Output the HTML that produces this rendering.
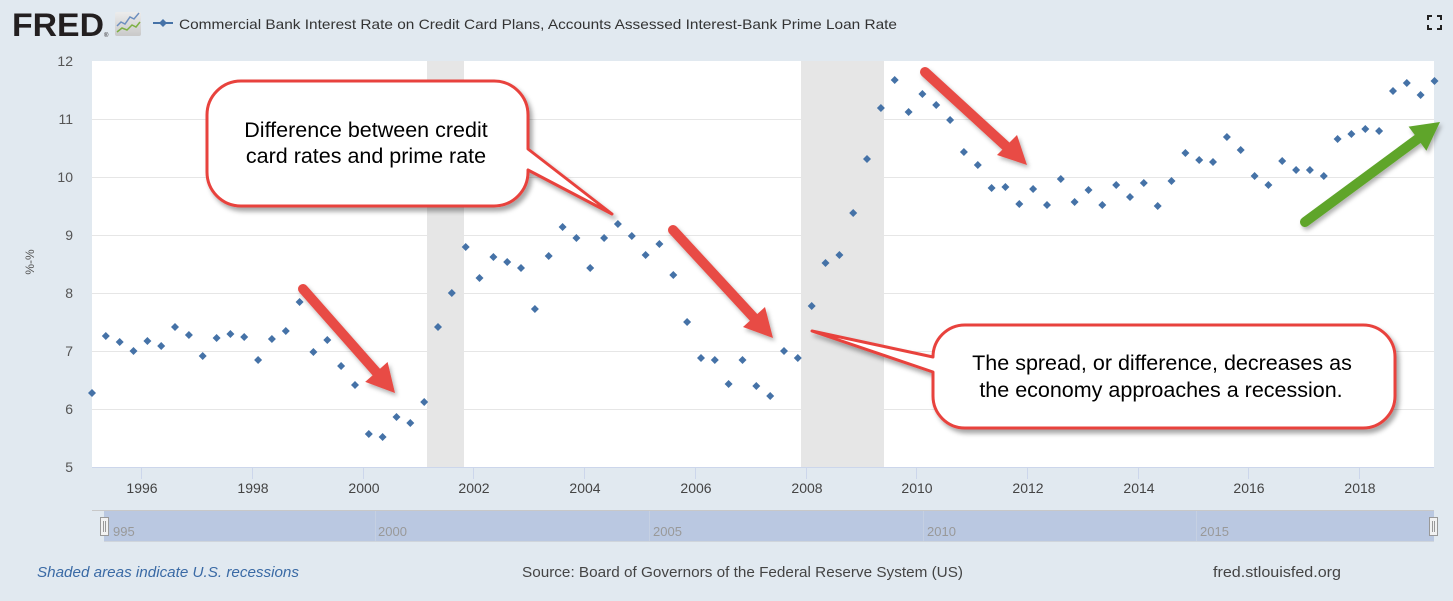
<!DOCTYPE html>
<html>
<head>
<meta charset="utf-8">
<style>
  html,body{margin:0;padding:0;background:#e1e9f0;}
  svg{display:block;}
  text{font-family:"Liberation Sans", Arial, sans-serif;}
</style>
</head>
<body>
<svg width="1453" height="601" viewBox="0 0 1453 601" xmlns="http://www.w3.org/2000/svg">
  <defs>
    <filter id="sh" x="-20%" y="-20%" width="140%" height="150%">
      <feDropShadow dx="3" dy="4" stdDeviation="2.5" flood-color="#000" flood-opacity="0.35"/>
    </filter>
    <filter id="ash" x="-20%" y="-20%" width="140%" height="140%">
      <feDropShadow dx="2" dy="3" stdDeviation="2" flood-color="#000" flood-opacity="0.3"/>
    </filter>
    <linearGradient id="ig" x1="0" y1="0" x2="0" y2="1">
      <stop offset="0" stop-color="#ececec"/>
      <stop offset="1" stop-color="#c9c9c9"/>
    </linearGradient>
  </defs>

  <rect x="0" y="0" width="1453" height="601" fill="#e1e9f0"/>

  <!-- Header -->
  <text x="12" y="36" font-size="32" font-weight="bold" fill="#231f20" textLength="92" lengthAdjust="spacingAndGlyphs">FRED</text>
  <text x="104" y="37" font-size="6" fill="#231f20">®</text>
  <rect x="115" y="12" width="26" height="24" rx="2" fill="url(#ig)"/>
  <polyline points="117,26 121,22 125,24 130,17 134,19 139,13" fill="none" stroke="#6d8fbf" stroke-width="1.5"/>
  <polyline points="117,32 122,28 127,30 132,25 136,27 140,22" fill="none" stroke="#7db043" stroke-width="1.5"/>

  <line x1="153" y1="23" x2="173" y2="23" stroke="#4572a7" stroke-width="2"/>
  <path d="M163 19 l4 4 -4 4 -4 -4z" fill="#4572a7"/>
  <text x="179" y="29" font-size="14" fill="#333" textLength="718" lengthAdjust="spacingAndGlyphs">Commercial Bank Interest Rate on Credit Card Plans, Accounts Assessed Interest-Bank Prime Loan Rate</text>

  <!-- fullscreen icon -->
  <g fill="none" stroke="#222" stroke-width="2">
    <path d="M1428 20 V16 H1432"/>
    <path d="M1437 16 H1441 V20"/>
    <path d="M1428 25 V29 H1432"/>
    <path d="M1437 29 H1441 V25"/>
  </g>

  <!-- Plot area -->
  <rect x="92" y="61" width="1342" height="406" fill="#ffffff"/>
  <!-- recessions -->
  <rect x="427" y="61" width="37" height="406" fill="#e6e6e6"/>
  <rect x="801" y="61" width="83" height="406" fill="#e6e6e6"/>

  <!-- gridlines -->
  <g stroke="#e6e6e6" stroke-width="1">
    <line x1="92" y1="119.5" x2="1434" y2="119.5"/>
    <line x1="92" y1="177.5" x2="1434" y2="177.5"/>
    <line x1="92" y1="235.5" x2="1434" y2="235.5"/>
    <line x1="92" y1="293.5" x2="1434" y2="293.5"/>
    <line x1="92" y1="351.5" x2="1434" y2="351.5"/>
    <line x1="92" y1="409.5" x2="1434" y2="409.5"/>
  </g>
  <line x1="92" y1="467.5" x2="1434" y2="467.5" stroke="#ccd6eb" stroke-width="1"/>
  <g stroke="#ccd6eb" stroke-width="1">
    <line x1="141.5" y1="467" x2="141.5" y2="479"/>
    <line x1="252.5" y1="467" x2="252.5" y2="479"/>
    <line x1="363.5" y1="467" x2="363.5" y2="479"/>
    <line x1="473.5" y1="467" x2="473.5" y2="479"/>
    <line x1="584.5" y1="467" x2="584.5" y2="479"/>
    <line x1="695.5" y1="467" x2="695.5" y2="479"/>
    <line x1="806.5" y1="467" x2="806.5" y2="479"/>
    <line x1="916.5" y1="467" x2="916.5" y2="479"/>
    <line x1="1027.5" y1="467" x2="1027.5" y2="479"/>
    <line x1="1138.5" y1="467" x2="1138.5" y2="479"/>
    <line x1="1248.5" y1="467" x2="1248.5" y2="479"/>
    <line x1="1359.5" y1="467" x2="1359.5" y2="479"/>
  </g>

  <!-- y labels -->
  <g font-size="14" fill="#555" text-anchor="end">
    <text x="73" y="66">12</text>
    <text x="73" y="124">11</text>
    <text x="73" y="182">10</text>
    <text x="73" y="240">9</text>
    <text x="73" y="298">8</text>
    <text x="73" y="356">7</text>
    <text x="73" y="414">6</text>
    <text x="73" y="472">5</text>
  </g>
  <text x="0" y="0" font-size="12" fill="#555" text-anchor="middle" transform="translate(34,262) rotate(-90)">%-%</text>

  <!-- x labels -->
  <g font-size="14" fill="#444" text-anchor="middle">
    <text x="142" y="493">1996</text>
    <text x="253" y="493">1998</text>
    <text x="364" y="493">2000</text>
    <text x="474" y="493">2002</text>
    <text x="585" y="493">2004</text>
    <text x="696" y="493">2006</text>
    <text x="807" y="493">2008</text>
    <text x="917" y="493">2010</text>
    <text x="1028" y="493">2012</text>
    <text x="1139" y="493">2014</text>
    <text x="1249" y="493">2016</text>
    <text x="1360" y="493">2018</text>
  </g>

  <!-- data points -->
  <path fill="#4572a7" d="
M92.0 389 l4 4 -4 4 -4 -4z
M105.8 332 l4 4 -4 4 -4 -4z
M119.7 338 l4 4 -4 4 -4 -4z
M133.5 347 l4 4 -4 4 -4 -4z
M147.4 337 l4 4 -4 4 -4 -4z
M161.2 342 l4 4 -4 4 -4 -4z
M175.0 323 l4 4 -4 4 -4 -4z
M188.9 331 l4 4 -4 4 -4 -4z
M202.7 352 l4 4 -4 4 -4 -4z
M216.6 334 l4 4 -4 4 -4 -4z
M230.4 330 l4 4 -4 4 -4 -4z
M244.2 333 l4 4 -4 4 -4 -4z
M258.1 356 l4 4 -4 4 -4 -4z
M271.9 335 l4 4 -4 4 -4 -4z
M285.8 327 l4 4 -4 4 -4 -4z
M299.6 298 l4 4 -4 4 -4 -4z
M313.4 348 l4 4 -4 4 -4 -4z
M327.3 336 l4 4 -4 4 -4 -4z
M341.1 362 l4 4 -4 4 -4 -4z
M355.0 381 l4 4 -4 4 -4 -4z
M368.8 430 l4 4 -4 4 -4 -4z
M382.6 433 l4 4 -4 4 -4 -4z
M396.5 413 l4 4 -4 4 -4 -4z
M410.3 419 l4 4 -4 4 -4 -4z
M424.2 398 l4 4 -4 4 -4 -4z
M438.0 323 l4 4 -4 4 -4 -4z
M451.8 289 l4 4 -4 4 -4 -4z
M465.7 243 l4 4 -4 4 -4 -4z
M479.5 274 l4 4 -4 4 -4 -4z
M493.4 253 l4 4 -4 4 -4 -4z
M507.2 258 l4 4 -4 4 -4 -4z
M521.0 264 l4 4 -4 4 -4 -4z
M534.9 305 l4 4 -4 4 -4 -4z
M548.7 252 l4 4 -4 4 -4 -4z
M562.6 223 l4 4 -4 4 -4 -4z
M576.4 234 l4 4 -4 4 -4 -4z
M590.2 264 l4 4 -4 4 -4 -4z
M604.1 234 l4 4 -4 4 -4 -4z
M617.9 220 l4 4 -4 4 -4 -4z
M631.8 232 l4 4 -4 4 -4 -4z
M645.6 251 l4 4 -4 4 -4 -4z
M659.4 240 l4 4 -4 4 -4 -4z
M673.3 271 l4 4 -4 4 -4 -4z
M687.1 318 l4 4 -4 4 -4 -4z
M701.0 354 l4 4 -4 4 -4 -4z
M714.8 356 l4 4 -4 4 -4 -4z
M728.6 380 l4 4 -4 4 -4 -4z
M742.5 356 l4 4 -4 4 -4 -4z
M756.3 382 l4 4 -4 4 -4 -4z
M770.2 392 l4 4 -4 4 -4 -4z
M784.0 347 l4 4 -4 4 -4 -4z
M797.8 354 l4 4 -4 4 -4 -4z
M811.7 302 l4 4 -4 4 -4 -4z
M825.5 259 l4 4 -4 4 -4 -4z
M839.4 251 l4 4 -4 4 -4 -4z
M853.2 209 l4 4 -4 4 -4 -4z
M867.0 155 l4 4 -4 4 -4 -4z
M880.9 104 l4 4 -4 4 -4 -4z
M894.7 76 l4 4 -4 4 -4 -4z
M908.6 108 l4 4 -4 4 -4 -4z
M922.4 90 l4 4 -4 4 -4 -4z
M936.2 101 l4 4 -4 4 -4 -4z
M950.1 116 l4 4 -4 4 -4 -4z
M963.9 148 l4 4 -4 4 -4 -4z
M977.8 161 l4 4 -4 4 -4 -4z
M991.6 184 l4 4 -4 4 -4 -4z
M1005.4 183 l4 4 -4 4 -4 -4z
M1019.3 200 l4 4 -4 4 -4 -4z
M1033.1 185 l4 4 -4 4 -4 -4z
M1047.0 201 l4 4 -4 4 -4 -4z
M1060.8 175 l4 4 -4 4 -4 -4z
M1074.6 198 l4 4 -4 4 -4 -4z
M1088.5 186 l4 4 -4 4 -4 -4z
M1102.3 201 l4 4 -4 4 -4 -4z
M1116.2 181 l4 4 -4 4 -4 -4z
M1130.0 193 l4 4 -4 4 -4 -4z
M1143.8 179 l4 4 -4 4 -4 -4z
M1157.7 202 l4 4 -4 4 -4 -4z
M1171.5 177 l4 4 -4 4 -4 -4z
M1185.4 149 l4 4 -4 4 -4 -4z
M1199.2 156 l4 4 -4 4 -4 -4z
M1213.0 158 l4 4 -4 4 -4 -4z
M1226.9 133 l4 4 -4 4 -4 -4z
M1240.7 146 l4 4 -4 4 -4 -4z
M1254.6 172 l4 4 -4 4 -4 -4z
M1268.4 181 l4 4 -4 4 -4 -4z
M1282.2 157 l4 4 -4 4 -4 -4z
M1296.1 166 l4 4 -4 4 -4 -4z
M1309.9 166 l4 4 -4 4 -4 -4z
M1323.8 172 l4 4 -4 4 -4 -4z
M1337.6 135 l4 4 -4 4 -4 -4z
M1351.4 130 l4 4 -4 4 -4 -4z
M1365.3 125 l4 4 -4 4 -4 -4z
M1379.1 127 l4 4 -4 4 -4 -4z
M1393.0 87 l4 4 -4 4 -4 -4z
M1406.8 79 l4 4 -4 4 -4 -4z
M1420.6 91 l4 4 -4 4 -4 -4z
M1434.5 77 l4 4 -4 4 -4 -4z
"/>

  <!-- Callout 1 -->
  <path filter="url(#sh)" fill="#ffffff" stroke="#e8433e" stroke-width="3" stroke-linejoin="round"
    d="M242 81 H494 A34 34 0 0 1 528 115 V149 L612 214 L528 170 V172 A34 34 0 0 1 494 206 H241 A34 34 0 0 1 207 172 V115 A34 34 0 0 1 241 81 Z"/>
  <g font-size="21.5" fill="#000" text-anchor="middle">
    <text x="366" y="137">Difference between credit</text>
    <text x="366" y="163">card rates and prime rate</text>
  </g>

  <!-- Callout 2 -->
  <path filter="url(#sh)" fill="#ffffff" stroke="#e8433e" stroke-width="3" stroke-linejoin="round"
    d="M965 325 H1363 A32 32 0 0 1 1395 357 V396 A32 32 0 0 1 1363 428 H965 A32 32 0 0 1 933 396 V372 L812 331 L933 357 A32 32 0 0 1 965 325 Z"/>
  <g font-size="21.5" fill="#000" text-anchor="middle">
    <text x="1162" y="370">The spread, or difference, decreases as</text>
    <text x="1161" y="397">the economy approaches a recession.</text>
  </g>

  <!-- Red arrows -->
  <g filter="url(#ash)">
    <line x1="303" y1="289" x2="378" y2="374" stroke="#e84b45" stroke-width="10" stroke-linecap="round"/>
    <polygon points="395,393 365.2,381.9 387.6,362" fill="#e84b45"/>

    <line x1="673" y1="230" x2="756" y2="320" stroke="#e84b45" stroke-width="10" stroke-linecap="round"/>
    <polygon points="773,338 743,327 765,307" fill="#e84b45"/>

    <line x1="925" y1="72" x2="1008" y2="148" stroke="#e84b45" stroke-width="10" stroke-linecap="round"/>
    <polygon points="1027,165 997,155 1017,135" fill="#e84b45"/>

    <line x1="1305" y1="222" x2="1419" y2="138" stroke="#5fa52c" stroke-width="10" stroke-linecap="round"/>
    <polygon points="1440,122 1408.6,126.6 1426.4,150.8" fill="#5fa52c"/>
  </g>

  <!-- Navigator -->
  <line x1="92" y1="510.5" x2="1434" y2="510.5" stroke="#c8c8c8" stroke-width="1"/>
  <rect x="104" y="511" width="1330" height="30" fill="#bac8e1"/>
  <line x1="104" y1="541.5" x2="1434" y2="541.5" stroke="#cfd5dc" stroke-width="1"/>
  <g stroke="#c5d0e2" stroke-width="1">
    <line x1="375.5" y1="511" x2="375.5" y2="541"/>
    <line x1="649.5" y1="511" x2="649.5" y2="541"/>
    <line x1="923.5" y1="511" x2="923.5" y2="541"/>
    <line x1="1196.5" y1="511" x2="1196.5" y2="541"/>
  </g>
  <g font-size="13" fill="#999">
    <text x="113" y="536">995</text>
    <text x="378" y="536">2000</text>
    <text x="653" y="536">2005</text>
    <text x="927" y="536">2010</text>
    <text x="1200" y="536">2015</text>
  </g>
  <g>
    <rect x="100.5" y="517.5" width="8" height="18" fill="#f2f2f2" stroke="#999"/>
    <line x1="103.5" y1="521" x2="103.5" y2="532" stroke="#999"/>
    <line x1="105.5" y1="521" x2="105.5" y2="532" stroke="#999"/>
    <rect x="1429.5" y="517.5" width="8" height="18" fill="#f2f2f2" stroke="#999"/>
    <line x1="1432.5" y1="521" x2="1432.5" y2="532" stroke="#999"/>
    <line x1="1434.5" y1="521" x2="1434.5" y2="532" stroke="#999"/>
  </g>

  <!-- Footer -->
  <text x="37" y="577" font-size="15" font-style="italic" fill="#3a6aa5" textLength="262" lengthAdjust="spacingAndGlyphs">Shaded areas indicate U.S. recessions</text>
  <text x="522" y="577" font-size="15" fill="#444" textLength="441" lengthAdjust="spacingAndGlyphs">Source: Board of Governors of the Federal Reserve System (US)</text>
  <text x="1213" y="577" font-size="15" fill="#444" textLength="128" lengthAdjust="spacingAndGlyphs">fred.stlouisfed.org</text>
</svg>
</body>
</html>
